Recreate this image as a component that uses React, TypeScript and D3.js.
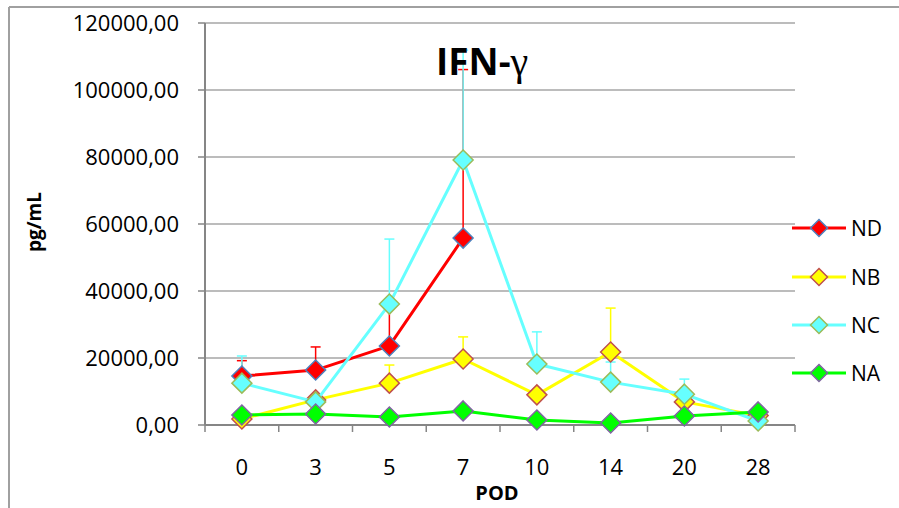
import React from "react";
import * as d3 from "d3";

const categories = ["0", "3", "5", "7", "10", "14", "20", "28"];
const yTicks = [0, 20000, 40000, 60000, 80000, 100000, 120000];
const seriesNames = ["ND", "NB", "NC", "NA"];

const ndValues = [14600, 16400, 23600, 55800, null, null, null, null];
const ndErr = [4600, 6900, 11400, 50300, null, null, null, null];
const nbValues = [1800, 7500, 12500, 19700, 9000, 21800, 6900, 2800];
const nbErr = [null, null, 5400, 6600, null, 13100, null, null];
const ncValues = [12500, 6900, 36100, 79100, 18200, 12800, 9200, 1200];
const ncErr = [8100, null, 19400, 32800, 9600, 6000, 4500, null];
const naValues = [3000, 3300, 2400, 4200, 1500, 600, 2700, 3900];
const naErr = [null, null, null, null, null, null, null, null];

const lineColors = ["#ff0000", "#ffff00", "#66ffff", "#00ff00"];
const markerStrokes = ["#4f81bd", "#c0504d", "#9bbb59", "#8064a2"];

const W = 899;
const H = 508;
const PL = 205, PR = 795, PT = 23, PB = 425;

const fmt = (v: number) => d3.format(".2f")(v).replace(".", ",");

export default function App() {
  const x = d3.scaleBand<string>().domain(categories).range([PL, PR]).padding(0);
  const cx = (c: string) => (x(c) as number) + x.bandwidth() / 2;
  const y = d3.scaleLinear().domain([0, 120000]).range([PB, PT]);

  const all = [
    { name: seriesNames[0], vals: ndValues, err: ndErr },
    { name: seriesNames[1], vals: nbValues, err: nbErr },
    { name: seriesNames[2], vals: ncValues, err: ncErr },
    { name: seriesNames[3], vals: naValues, err: naErr },
  ];

  const line = d3
    .line<[string, number | null]>()
    .defined((d) => d[1] != null)
    .x((d) => cx(d[0]))
    .y((d) => y(d[1] as number));

  const diamond = (px: number, py: number, r: number) =>
    `M${px},${py - r}L${px + r},${py}L${px},${py + r}L${px - r},${py}Z`;

  const font = "'Open Sans', 'Noto Sans', sans-serif";
  const legendY = [228, 277, 325, 373];
  const boundaries = d3.range(categories.length + 1).map((i) => PL + i * x.step());

  return (
    <svg width={W} height={H} style={{ position: "absolute", left: 0, top: 0, background: "#fff" }}>
      <rect x={0} y={0} width={W} height={H} fill="#fff" />
      {/* frame */}
      <line x1={9} y1={7} x2={W} y2={7} stroke="#a0a0a0" strokeWidth={2} />
      <line x1={9} y1={7} x2={9} y2={H} stroke="#a0a0a0" strokeWidth={2} />

      {/* gridlines */}
      {yTicks.map((t) => (
        <line key={"g" + t} x1={PL} x2={PR} y1={y(t)} y2={y(t)} stroke="#a6a6a6" strokeWidth={1.5} />
      ))}
      {/* y axis */}
      <line x1={PL} x2={PL} y1={PT} y2={PB} stroke="#868686" strokeWidth={2} />
      {yTicks.map((t) => (
        <g key={"yt" + t}>
          <line x1={PL - 7} x2={PL} y1={y(t)} y2={y(t)} stroke="#868686" strokeWidth={1.5} />
          <text x={179} y={y(t)} dy="0.36em" textAnchor="end" fontFamily={font} fontSize={22} fill="#000">
            {fmt(t)}
          </text>
        </g>
      ))}
      {/* x axis */}
      <line x1={PL} x2={PR} y1={PB} y2={PB} stroke="#868686" strokeWidth={2} />
      {boundaries.map((b, i) => (
        <line key={"xt" + i} x1={b} x2={b} y1={PB} y2={PB + 7} stroke="#868686" strokeWidth={1.5} />
      ))}
      {categories.map((c) => (
        <text key={"xl" + c} x={cx(c)} y={475} textAnchor="middle" fontFamily={font} fontSize={22} fill="#000">
          {c}
        </text>
      ))}

      {/* error bars */}
      {all.map((s, si) =>
        s.vals.map((v, i) => {
          const e = s.err[i];
          if (v == null || e == null) return null;
          const px = cx(categories[i]);
          return (
            <g key={"e" + si + "-" + i}>
              <line x1={px} x2={px} y1={y(v)} y2={y(v + e)} stroke={lineColors[si]} strokeWidth={1.5} />
              <line x1={px - 5} x2={px + 5} y1={y(v + e)} y2={y(v + e)} stroke={lineColors[si]} strokeWidth={1.5} />
            </g>
          );
        })
      )}

      {/* series */}
      {all.map((s, si) => (
        <g key={"s" + si}>
          <path
            d={line(categories.map((c, i) => [c, s.vals[i]]) as [string, number | null][]) || ""}
            fill="none"
            stroke={lineColors[si]}
            strokeWidth={3}
            strokeLinejoin="round"
          />
          {s.vals.map((v, i) =>
            v == null ? null : (
              <path
                key={"m" + i}
                d={diamond(cx(categories[i]), y(v), 10)}
                fill={lineColors[si]}
                stroke={markerStrokes[si]}
                strokeWidth={1.5}
              />
            )
          )}
        </g>
      ))}

      {/* title */}
      <text x={436} y={75} fontFamily={font} fontSize={37} fontWeight="bold" fill="#000">
        IFN-
        <tspan fontFamily="'Liberation Serif', 'DejaVu Serif', serif" fontWeight="normal" fontSize={40}>
          γ
        </tspan>
      </text>

      {/* axis titles */}
      <text
        transform={`translate(41,222) rotate(-90)`}
        textAnchor="middle"
        fontFamily={font}
        fontSize={19}
        fontWeight="bold"
        fill="#000"
      >
        pg/mL
      </text>
      <text x={497} y={500} textAnchor="middle" fontFamily={font} fontSize={20} fontWeight="bold" fill="#000">
        POD
      </text>

      {/* legend */}
      {seriesNames.map((n, i) => (
        <g key={"lg" + n}>
          <line x1={792} x2={846} y1={legendY[i]} y2={legendY[i]} stroke={lineColors[i]} strokeWidth={3} />
          <path d={diamond(819, legendY[i], 8.5)} fill={lineColors[i]} stroke={markerStrokes[i]} strokeWidth={1.5} />
          <text x={851} y={legendY[i]} dy="0.36em" fontFamily={font} fontSize={21} fill="#000">
            {n}
          </text>
        </g>
      ))}
    </svg>
  );
}
